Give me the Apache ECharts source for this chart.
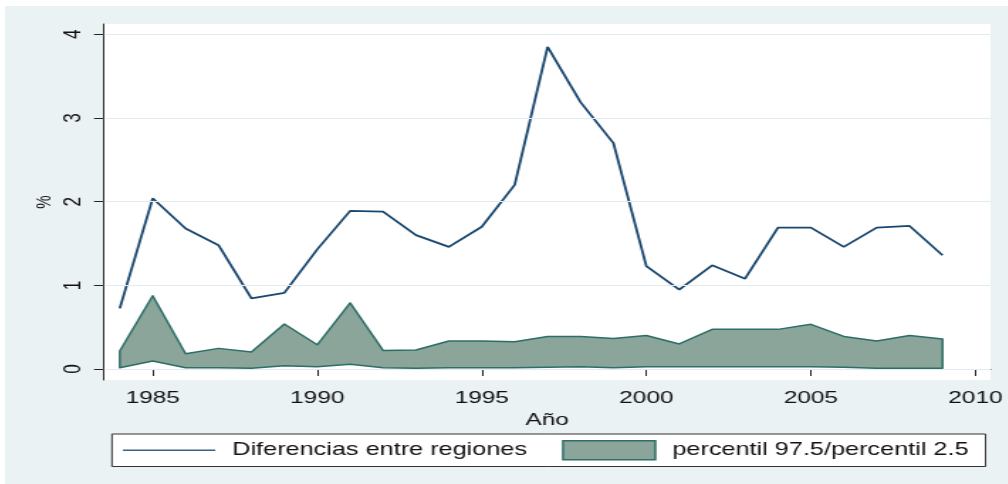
<!DOCTYPE html>
<html>
<head>
<meta charset="utf-8">
<script src="https://cdn.jsdelivr.net/npm/echarts@6/dist/echarts.min.js"></script>
<style>
  html, body { margin: 0; padding: 0; background: #fff; overflow: hidden; }
  /* the reference is a horizontally stretched Stata graph, so the chart is drawn narrow and stretched */
  #main {
    position: absolute; left: 5px; top: 6px;
    width: 706.34px; height: 478px;
    transform: scaleX(1.42); transform-origin: 0 0;
  }
</style>
</head>
<body>
<div id="main"></div>
<script>
const years = [1984, 1985, 1986, 1987, 1988, 1989, 1990, 1991, 1992, 1993, 1994, 1995, 1996,
  1997, 1998, 1999, 2000, 2001, 2002, 2003, 2004, 2005, 2006, 2007, 2008, 2009];
const diferencias = [0.725, 2.04, 1.68, 1.48, 0.845, 0.91, 1.43, 1.89, 1.88, 1.60, 1.46, 1.70, 2.20,
  3.85, 3.19, 2.70, 1.23, 0.95, 1.24, 1.08, 1.69, 1.69, 1.46, 1.69, 1.71, 1.36];
const p975 = [0.215, 0.876, 0.183, 0.247, 0.203, 0.538, 0.29, 0.79, 0.223, 0.227, 0.335, 0.335, 0.327,
  0.39, 0.39, 0.366, 0.40, 0.30, 0.474, 0.474, 0.474, 0.534, 0.39, 0.335, 0.40, 0.358];
const p025 = [0.016, 0.096, 0.016, 0.016, 0.008, 0.04, 0.028, 0.056, 0.016, 0.008, 0.016, 0.016, 0.016,
  0.02, 0.028, 0.016, 0.028, 0.028, 0.028, 0.028, 0.028, 0.028, 0.02, 0.008, 0.008, 0.008];
const xTicks = [1985, 1990, 1995, 2000, 2005, 2010];
const yTicks = [0, 1, 2, 3, 4];

const font = "'Liberation Sans', Arial, sans-serif";
const navy = '#1a476f';
const bandFill = '#8ca59a';
const bandLine = '#2d6e66';

var myChart = echarts.init(document.getElementById('main'));
const option = {
  animation: false,
  backgroundColor: '#eaf2f3',
  grid: {
    left: 69.7,
    right: 11.95,
    top: 18,
    bottom: 104,
    show: true,
    backgroundColor: '#fff',
    borderWidth: 0,
  },
  legend: {
    left: 75.35,
    top: 428,
    orient: 'horizontal',
    backgroundColor: '#fff',
    borderColor: '#333',
    borderWidth: 1,
    borderRadius: 0,
    padding: [6, 12, 6, 7.7],
    itemGap: 24.6,
    itemWidth: 65,
    itemHeight: 19,
    textStyle: {
      fontFamily: font,
      fontSize: 17.8,
      color: '#111',
      padding: [0, 0, 0, 7],
    },
    data: [
      {
        name: 'Diferencias entre regiones',
        // thin line icon (no marker)
        icon: 'path://M0,0H100V2H0Z',
        itemStyle: { color: '#3a6288' },
      },
      {
        name: 'percentil 97.5/percentil 2.5',
        icon: 'rect',
        itemStyle: { color: bandFill, borderColor: bandLine, borderWidth: 1.5 },
      },
    ],
  },
  xAxis: {
    type: 'value',
    min: 1983.52,
    max: 2010.46,
    name: 'Año',
    nameLocation: 'middle',
    nameGap: 24,
    nameTextStyle: { fontFamily: font, fontSize: 17.2, color: '#111' },
    axisLine: { show: true, lineStyle: { color: '#222', width: 1 } },
    axisTick: { show: true, length: 7, customValues: xTicks, lineStyle: { color: '#222' } },
    axisLabel: {
      customValues: xTicks,
      formatter: (v) => String(v),
      margin: 10,
      fontFamily: font,
      fontSize: 17.2,
      color: '#111',
    },
    splitLine: { show: false },
  },
  yAxis: {
    type: 'value',
    min: -0.131,
    max: 4.123,
    name: '%',
    nameLocation: 'middle',
    nameRotate: 90,
    nameGap: 34,
    nameMoveOverlap: false,
    nameTextStyle: { fontFamily: font, fontSize: 15, color: '#111' },
    axisLine: { show: true, lineStyle: { color: '#222', width: 1 } },
    axisTick: { show: true, length: 7, customValues: yTicks, lineStyle: { color: '#222' } },
    axisLabel: {
      customValues: yTicks,
      formatter: (v) => String(v),
      rotate: 90,
      margin: 13,
      fontFamily: font,
      fontSize: 17.2,
      color: '#111',
    },
    splitLine: { show: false },
  },
  series: [
    {
      // gridlines only
      name: 'grid',
      type: 'line',
      data: [],
      z: 1,
      silent: true,
      markLine: {
        silent: true,
        symbol: 'none',
        label: { show: false },
        lineStyle: { color: '#e2ecee', width: 1, type: 'solid' },
        data: yTicks.map((v) => ({ yAxis: v })),
      },
    },
    {
      name: 'percentil 97.5/percentil 2.5',
      type: 'custom',
      z: 2,
      data: years.map((y, i) => [y, p025[i], p975[i]]),
      encode: { x: 0, y: [1, 2] },
      renderItem: (params, api) => {
        if (params.dataIndex !== 0) return null;
        const top = years.map((y, i) => api.coord([y, p975[i]]));
        const bot = years.map((y, i) => api.coord([y, p025[i]])).reverse();
        return {
          type: 'polygon',
          shape: { points: top.concat(bot) },
          style: { fill: bandFill, stroke: bandLine, lineWidth: 1.5, lineJoin: 'round' },
        };
      },
      itemStyle: { color: bandFill, borderColor: bandLine },
    },
    {
      name: 'Diferencias entre regiones',
      type: 'line',
      z: 3,
      data: years.map((y, i) => [y, diferencias[i]]),
      symbol: 'none',
      lineStyle: { color: navy, width: 1.8 },
      itemStyle: { color: navy },
    },
  ],
};
myChart.setOption(option);
</script>
</body>
</html>
